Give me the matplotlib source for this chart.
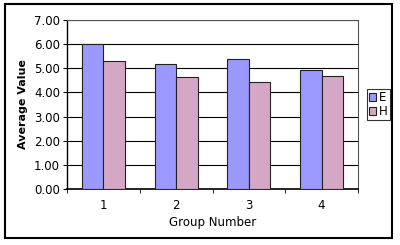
import matplotlib
matplotlib.use("Agg")
import matplotlib.pyplot as plt
from matplotlib.patches import Rectangle
import numpy as np

groups = ["1", "2", "3", "4"]
e_vals = [6.02, 5.16, 5.37, 4.92]
h_vals = [5.30, 4.65, 4.44, 4.69]
series_names = ["E", "H"]

fig = plt.figure(figsize=(4, 2.45), dpi=100)
ax = fig.add_axes([0.1675, 0.2286, 0.7275, 0.6894])

x = np.arange(len(groups))
w = 0.297
ax.bar(x - w / 2, e_vals, w, color="#9999ff", edgecolor="#222222", linewidth=0.8, label=series_names[0], zorder=3)
ax.bar(x + w / 2, h_vals, w, color="#d4a8c4", edgecolor="#222222", linewidth=0.8, label=series_names[1], zorder=3)

ax.set_xlim(-0.5, len(groups) - 0.5)
ax.set_ylim(0, 7)
ax.set_yticks(np.arange(0, 7.01, 1))
ax.set_yticklabels(["%.2f" % v for v in np.arange(0, 7.01, 1)], fontsize=8.5)
ax.yaxis.grid(True, color="black", linewidth=0.8, zorder=0)
ax.set_axisbelow(True)

ax.set_xticks(x)
ax.set_xticklabels(groups, fontsize=8.5)
ax.tick_params(axis="x", length=0, pad=7)
ax.set_xticks(np.arange(-0.5, len(groups), 1), minor=True)
ax.tick_params(axis="x", which="minor", length=3, direction="out", color="black")
ax.tick_params(axis="y", length=3, direction="out", pad=2)

for s in ["left", "bottom"]:
    ax.spines[s].set_color("black")
for s in ["top", "right"]:
    ax.spines[s].set_color("#555555")
ax.spines["bottom"].set_linewidth(1.2)
ax.spines["left"].set_linewidth(1.0)

ax.set_xlabel("Group Number", fontsize=8.5, labelpad=3)
ax.set_ylabel("Average Value", fontsize=8, fontweight="bold", labelpad=4)

leg = ax.legend(loc="center left", bbox_to_anchor=(1.03, 0.5), fontsize=8.5,
                frameon=True, fancybox=False, edgecolor="black",
                handlelength=0.6, handleheight=0.6, handletextpad=0.3,
                borderpad=0.15, labelspacing=0.1, borderaxespad=0)
leg.get_frame().set_linewidth(0.8)

fig.patches.append(Rectangle((5 / 400, 7 / 245), 387 / 400, 234 / 245, transform=fig.transFigure,
                             fill=False, edgecolor="black", linewidth=1.5))

fig.savefig("out.png", dpi=100)
